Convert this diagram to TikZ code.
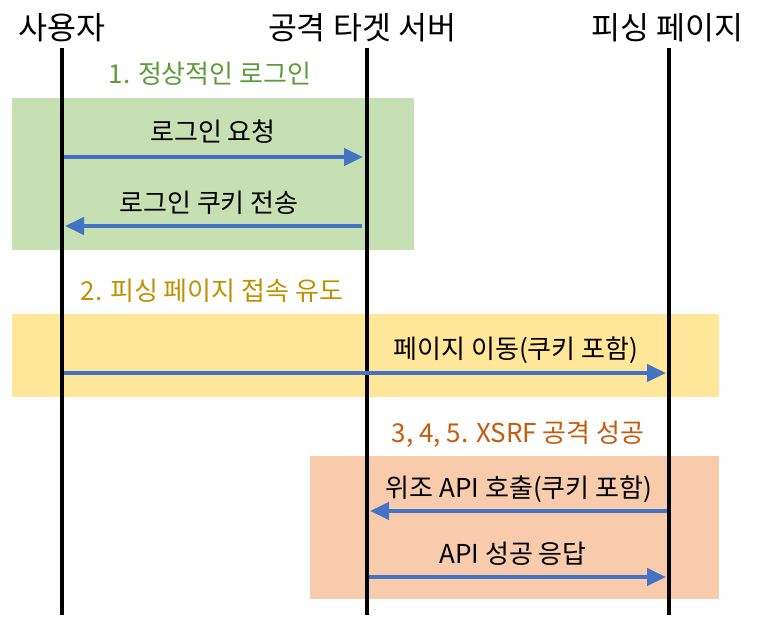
\documentclass[tikz,border=0pt]{standalone}
\usepackage{fontspec}
\setmainfont{Noto Sans CJK KR}
\usetikzlibrary{arrows.meta}
\definecolor{arrowblue}{HTML}{4472C4}
\definecolor{greenbg}{HTML}{C6E0B4}
\definecolor{yellowbg}{HTML}{FFE699}
\definecolor{orangebg}{HTML}{F8CBAD}
\definecolor{greentxt}{HTML}{5B9B3A}
\definecolor{yellowtxt}{HTML}{BF9000}
\definecolor{orangetxt}{HTML}{C55A11}
\begin{document}
\begin{tikzpicture}[x=1pt,y=-1pt,
  msg/.style={line width=4.5pt, draw=arrowblue, -{Triangle[length=19pt,width=17pt,fill=arrowblue]}},
  life/.style={line width=4.8pt, draw=black},
  head/.style={font=\fontsize{31.5}{34}\selectfont, inner sep=0pt, anchor=base},
  lbl/.style={font=\fontsize{26}{30}\selectfont, inner sep=0pt, anchor=base},
  phase/.style={font=\fontsize{26}{30}\selectfont, inner sep=0pt, anchor=base}]
\useasboundingbox (0,0) rectangle (764,618);
% phase backgrounds
\fill[greenbg] (12,98) rectangle (414,250);
\fill[yellowbg] (12,314) rectangle (719,397);
\fill[orangebg] (310,456) rectangle (719,599);
% headers
\node[head] (uh) at (62,40) {사용자};
\node[head] (sh) at (362,40) {공격 타겟 서버};
\node[head] (ph) at (667,40) {피싱 페이지};
% lifelines
\coordinate (ut) at (62,48);  \coordinate (ub) at (62,615);
\coordinate (st) at (367,48); \coordinate (sb) at (367,615);
\coordinate (pt) at (669,48); \coordinate (pb) at (669,615);
\draw[life] (ut) -- (ub);
\draw[life] (st) -- (sb);
\draw[life] (pt) -- (pb);
% phase labels
\node[phase, text=greentxt] (l1) at (210,84) {1. 정상적인 로그인};
\node[phase, text=yellowtxt] (l2) at (212,300) {2. 피싱 페이지 접속 유도};
\node[phase, text=orangetxt] (l3) at (518,442) {3, 4, 5. XSRF 공격 성공};
% message endpoints
\coordinate (u1) at (64,157);  \coordinate (s1) at (363,157);
\coordinate (s2) at (362,226); \coordinate (u2) at (65,226);
\coordinate (u3) at (64,373);  \coordinate (p3) at (666,373);
\coordinate (p4) at (667,511); \coordinate (s4) at (370,511);
\coordinate (s5) at (369,577); \coordinate (p5) at (666,577);
% messages
\draw[msg] (u1) -- (s1);
\node[lbl] (m1) at (213,142) {로그인 요청};
\draw[msg] (s2) -- (u2);
\node[lbl] (m2) at (209,212) {로그인 쿠키 전송};
\draw[msg] (u3) -- (p3);
\node[lbl] (m3) at (516,358) {페이지 이동(쿠키 포함)};
\draw[msg] (p4) -- (s4);
\node[lbl] (m4) at (519,497) {위조 API 호출(쿠키 포함)};
\draw[msg] (s5) -- (p5);
\node[lbl] (m5) at (513,563) {API 성공 응답};
\end{tikzpicture}
\end{document}
